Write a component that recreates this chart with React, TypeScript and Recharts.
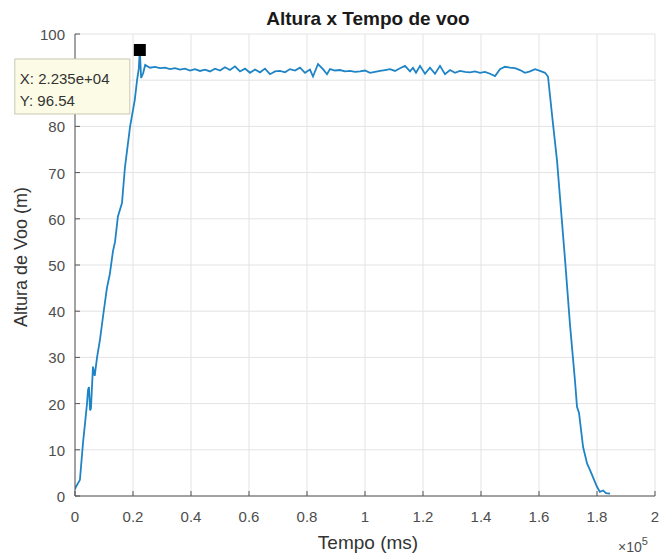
import React from 'react';
import { LineChart, Line, XAxis, YAxis, CartesianGrid, ReferenceDot } from 'recharts';

// Flight time (ms)
const timeMs: number[] = [
  0, 345, 1700, 2760, 3500, 4140, 4500, 4830, 5200, 5500, 6200, 6800, 7600, 8600, 9650,
  11000, 12000, 13100, 13800, 14800, 16200, 17200, 19000, 20600, 21400, 22000, 22350, 22800,
  23500, 24200, 25860, 27590, 29310, 31030, 32760, 34480, 36210, 37930, 39660, 41380, 43100,
  44830, 46550, 48280, 50000, 51720, 53450, 55170, 56900, 58620, 60340, 62070, 63790, 65520,
  67240, 68970, 70690, 72410, 74140, 75860, 77590, 79310, 81030, 82070, 83790, 85520, 86900,
  87930, 89660, 91380, 93100, 94830, 96550, 98280, 100000, 101720, 103450, 105170, 106900,
  108620, 110340, 112070, 113790, 115520, 116550, 117590, 118970, 120690, 122410, 124140,
  125860, 127590, 129310, 131030, 132760, 134480, 136210, 137930, 139660, 141380, 143100,
  144830, 146550, 148280, 150000, 151720, 153450, 155170, 156900, 158620, 160340, 162070,
  163100, 164800, 166200, 169000, 170700, 172400, 173100, 173800, 175200, 176600, 177600,
  180000, 181000, 182100, 183100, 184500,
];

// Flight altitude (m)
const altitude: number[] = [
  1.5, 2, 3.5, 11.5, 16, 20, 23, 23.6, 18.5, 19, 28, 26, 30, 33.8, 38.8,
  45, 48, 53, 55, 60.5, 63.4, 71, 80, 85.7, 90, 92.5, 96.54, 90.5,
  91.5, 93.3, 92.7, 92.9, 92.6, 92.7, 92.4, 92.6, 92.3, 92.5, 92.1, 92.4, 92.0,
  92.3, 91.9, 92.5, 92.1, 92.8, 92.2, 93.0, 91.9, 92.5, 91.6, 92.3, 91.7, 92.5,
  91.3, 91.9, 92.0, 91.7, 92.4, 92.1, 92.7, 91.6, 92.3, 90.8, 93.5, 92.4, 91.3,
  92.4, 92.1, 92.2, 91.9, 92.0, 91.8, 91.9, 92.1, 91.6, 91.8, 92.0, 92.2,
  92.4, 92.0, 92.6, 93.1, 91.9, 92.7, 91.6, 93.1, 91.4, 92.7, 91.4,
  93.1, 91.3, 92.2, 91.6, 92.0, 91.8, 91.7, 91.9, 91.6, 91.8, 91.4,
  90.9, 92.4, 92.9, 92.7, 92.6, 92.2, 91.6, 91.9, 92.4, 92.0, 91.6,
  90.8, 80.7, 72.7, 51, 37, 25, 19.3, 18, 10.6, 7, 5.6,
  2, 0.9, 1.2, 0.6, 0.5,
];

const xTicks: number[] = [0, 20000, 40000, 60000, 80000, 100000, 120000, 140000, 160000, 180000, 200000];
const yTicks: number[] = [0, 10, 20, 30, 40, 50, 60, 70, 80, 90, 100];
// y tick labels hidden behind the data tip in the reference
const yLabelsHidden: number[] = [90];

const tipX = 22350;
const tipY = 96.54;
const tipLines = ['X: 2.235e+04', 'Y: 96.54'];

const data = timeMs.map((t, i) => ({ t, a: altitude[i] }));

const FONT = '"Liberation Sans", Arial, Helvetica, sans-serif';
const AXIS = '#555555';
const TICKTXT = '#4d4d4d';

const fmtX = (v: number) => {
  const s = v / 100000;
  return String(Number(s.toFixed(1)));
};

const BottomTick = (props: any) => {
  const { x, y, payload } = props;
  return (
    <g>
      <line x1={x} x2={x} y1={y} y2={y - 5} stroke={AXIS} strokeWidth={1} />
      <text x={x} y={y + 26} textAnchor="middle" fontFamily={FONT} fontSize={15} fill={TICKTXT}>
        {fmtX(payload.value)}
      </text>
    </g>
  );
};

const TopTick = (props: any) => {
  const { x, y } = props;
  return <line x1={x} x2={x} y1={y} y2={y + 5} stroke={AXIS} strokeWidth={1} />;
};

const LeftTick = (props: any) => {
  const { x, y, payload } = props;
  const hidden = yLabelsHidden.includes(payload.value);
  return (
    <g>
      <line x1={x} x2={x + 5} y1={y} y2={y} stroke={AXIS} strokeWidth={1} />
      {!hidden && (
        <text x={x - 10} y={y + 6} textAnchor="end" fontFamily={FONT} fontSize={15} fill={TICKTXT}>
          {payload.value}
        </text>
      )}
    </g>
  );
};

const RightTick = (props: any) => {
  const { x, y } = props;
  return <line x1={x} x2={x - 5} y1={y} y2={y} stroke={AXIS} strokeWidth={1} />;
};

const DataTip = (props: any) => {
  const { cx, cy } = props;
  return (
    <g>
      <rect x={cx - 125} y={cy + 9} width={115} height={55} fill="#fcfce6" stroke="#c8c8b4" strokeWidth={1} />
      <text x={cx - 120} y={cy + 34} fontFamily={FONT} fontSize={15} fill="#333333">{tipLines[0]}</text>
      <text x={cx - 120} y={cy + 56} fontFamily={FONT} fontSize={15} fill="#333333">{tipLines[1]}</text>
      <rect x={cx - 6} y={cy - 6} width={12} height={12} fill="#000000" />
    </g>
  );
};

export default function App() {
  return (
    <div style={{ position: 'absolute', left: 0, top: 0, width: 665, height: 558, background: '#ffffff' }}>
      <LineChart width={665} height={558} data={data} margin={{ top: 34, right: 10, left: 0, bottom: 0 }}>
        <CartesianGrid stroke="#e3e3e3" strokeWidth={1} horizontalValues={yTicks} verticalValues={xTicks} />
        <XAxis
          dataKey="t"
          type="number"
          domain={[0, 200000]}
          ticks={xTicks}
          interval={0}
          height={62}
          tickSize={0}
          tickMargin={0}
          tick={<BottomTick />}
          axisLine={{ stroke: AXIS }}
          allowDataOverflow
        />
        <XAxis
          xAxisId="top"
          orientation="top"
          dataKey="t"
          type="number"
          domain={[0, 200000]}
          ticks={xTicks}
          interval={0}
          height={0}
          tickSize={0}
          tickMargin={0}
          tick={<TopTick />}
          axisLine={{ stroke: AXIS }}
          allowDataOverflow
        />
        <YAxis
          type="number"
          domain={[0, 100]}
          ticks={yTicks}
          interval={0}
          width={75}
          tickSize={0}
          tickMargin={0}
          tick={<LeftTick />}
          axisLine={{ stroke: AXIS }}
          allowDataOverflow
        />
        <YAxis
          yAxisId="right"
          orientation="right"
          type="number"
          domain={[0, 100]}
          ticks={yTicks}
          interval={0}
          width={0}
          tickSize={0}
          tickMargin={0}
          tick={<RightTick />}
          axisLine={{ stroke: AXIS }}
          allowDataOverflow
        />
        <Line
          type="linear"
          dataKey="a"
          stroke="#1f84c6"
          strokeWidth={1.8}
          dot={false}
          isAnimationActive={false}
        />
        <ReferenceDot x={tipX} y={tipY} r={6} shape={<DataTip />} zIndex={2000} ifOverflow="visible" />
      </LineChart>
      <svg width={665} height={558} style={{ position: 'absolute', left: 0, top: 0, pointerEvents: 'none' }}>
        <text x={368} y={25} textAnchor="middle" fontFamily={FONT} fontSize={19} fontWeight="bold" fill="#1a1a1a">
          Altura x Tempo de voo
        </text>
        <text x={368} y={549} textAnchor="middle" fontFamily={FONT} fontSize={19} fill="#333333">
          Tempo (ms)
        </text>
        <text
          x={27}
          y={257}
          textAnchor="middle"
          fontFamily={FONT}
          fontSize={18}
          fill="#333333"
          transform="rotate(-90 27 257)"
        >
          Altura de Voo (m)
        </text>
        <text x={618} y={552} fontFamily={FONT} fontSize={14} fill={TICKTXT}>
          ×10<tspan dy={-7} fontSize={11}>5</tspan>
        </text>
      </svg>
    </div>
  );
}
